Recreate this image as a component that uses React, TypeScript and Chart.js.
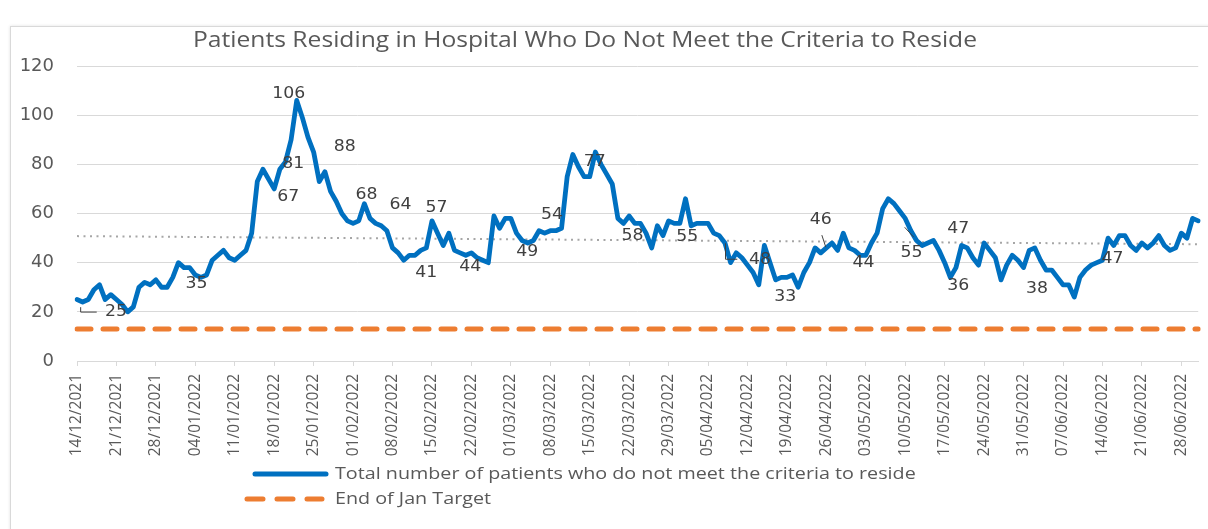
import React, { useEffect, useRef } from 'react';
import { Chart, registerables } from 'chart.js';

Chart.register(...registerables);

// ---------- DATA ----------
const startDate = { year: 2021, month: 12, day: 14 };
const patientCounts: number[] = [
  25, 24, 25, 29, 31, 25, 27, 25, 23, 20,
  22, 30, 32, 31, 33, 30, 30, 34, 40, 38,
  38, 35, 34, 35, 41, 43, 45, 42, 41, 43,
  45, 52, 73, 78, 74, 70, 78, 81, 90, 106,
  99, 91, 85, 73, 77, 69, 65, 60, 57, 56,
  57, 64, 58, 56, 55, 53, 46, 44, 41, 43,
  43, 45, 46, 57, 52, 47, 52, 45, 44, 43,
  44, 42, 41, 40, 59, 54, 58, 58, 52, 49,
  48, 49, 53, 52, 53, 53, 54, 75, 84, 79,
  75, 75, 85, 80, 76, 72, 58, 56, 59, 56,
  56, 52, 46, 55, 51, 57, 56, 56, 66, 55,
  56, 56, 56, 52, 51, 48, 40, 44, 42, 39,
  36, 31, 47, 40, 33, 34, 34, 35, 30, 36,
  40, 46, 44, 46, 48, 45, 52, 46, 45, 43,
  43, 48, 52, 62, 66, 64, 61, 58, 53, 49,
  47, 48, 49, 45, 40, 34, 38, 47, 46, 42,
  39, 48, 45, 42, 33, 39, 43, 41, 38, 45,
  46, 41, 37, 37, 34, 31, 31, 26, 34, 37,
  39, 40, 41, 50, 47, 51, 51, 47, 45, 48,
  46, 48, 51, 47, 45, 46, 52, 50, 58, 57,
];
const targetValue = 13;
const trendStartValue = 50.8;
const trendEndValue = 47.5;
const yTickValues = [0, 20, 40, 60, 80, 100, 120];
const labelEveryDays = 7;

const seriesNames = [
  'Total number of patients who do not meet the criteria to reside',
  'End of Jan Target',
];
const chartTitle = 'Patients Residing in Hospital Who Do Not Meet the Criteria to Reside';

// Data labels placed in data coordinates (day index, value)
const labelDays = [6.9, 21.2, 37.6, 38.4, 37.5, 47.5, 51.4, 57.4, 63.8, 62.0, 69.8, 79.9, 84.3, 91.9, 98.6, 108.3, 121.2, 125.7, 132.0, 139.6, 148.1, 156.4, 156.4, 170.4, 183.8];
const labelValues = [19.9, 31.3, 108.8, 80.4, 66.6, 87.3, 67.4, 63.4, 62.5, 35.7, 38.2, 44.3, 59.3, 81.0, 50.8, 50.4, 41.0, 26.0, 57.3, 39.8, 43.9, 53.6, 30.5, 29.2, 41.4];
const labelTexts = ['25', '35', '106', '81', '67', '88', '68', '64', '57', '41', '44', '49', '54', '77', '58', '55', '48', '33', '46', '44', '55', '47', '36', '38', '47'];

// Leader lines (day index, value) polylines
const leaderLines: [number, number][][] = [
  [[0.65, 21.9], [0.65, 19.9], [3.5, 19.9]],
  [[115.1, 47.9], [115.1, 41.4], [117.2, 41.4]],
  [[132.2, 51.2], [132.9, 46.3]],
  [[146.9, 54.4], [148.5, 50.4]],
];

// ---------- HELPERS ----------
const pad2 = (n: number) => (n < 10 ? '0' + n : String(n));
const dateLabels: string[] = patientCounts.map((_, i) => {
  const d = new Date(startDate.year, startDate.month - 1, startDate.day + i);
  return `${pad2(d.getDate())}/${pad2(d.getMonth() + 1)}/${d.getFullYear()}`;
});

const BLUE = '#0070C0';
const ORANGE = '#ED7D31';
const GREY_TREND = '#A6A6A6';
const TEXT = '#595959';
const LABEL_TEXT = '#404040';
const GRID = '#D9D9D9';

function stretchedText(ctx: CanvasRenderingContext2D, text: string, x: number, y: number, stretch: number) {
  ctx.save();
  ctx.translate(x, y);
  ctx.scale(stretch, 1);
  ctx.fillText(text, 0, 0);
  ctx.restore();
}

const overlayPlugin = {
  id: 'overlay',
  afterDatasetsDraw(chart: any) {
    const { ctx, scales } = chart;
    const xs = scales.x;
    const ys = scales.y;
    ctx.save();
    // leader lines
    ctx.strokeStyle = LABEL_TEXT;
    ctx.lineWidth = 1;
    leaderLines.forEach((pts) => {
      ctx.beginPath();
      pts.forEach(([d, v], i) => {
        const px = xs.getPixelForValue(d);
        const py = ys.getPixelForValue(v);
        if (i === 0) ctx.moveTo(px, py);
        else ctx.lineTo(px, py);
      });
      ctx.stroke();
    });
    // data labels
    ctx.fillStyle = LABEL_TEXT;
    ctx.font = '16px "DejaVu Sans", sans-serif';
    ctx.textAlign = 'center';
    ctx.textBaseline = 'middle';
    labelTexts.forEach((t, i) => {
      stretchedText(ctx, t, xs.getPixelForValue(labelDays[i]), ys.getPixelForValue(labelValues[i]), 1.08);
    });
    ctx.restore();
  },
  afterDraw(chart: any) {
    const { ctx } = chart;
    ctx.save();
    // title
    ctx.fillStyle = TEXT;
    ctx.font = '22px "Open Sans", sans-serif';
    ctx.textAlign = 'center';
    ctx.textBaseline = 'middle';
    stretchedText(ctx, chartTitle, 585, 41, 1.12);
    // legend
    const ds = chart.data.datasets;
    ctx.lineCap = 'round';
    ctx.strokeStyle = ds[0].borderColor;
    ctx.lineWidth = 5;
    ctx.setLineDash([]);
    ctx.beginPath();
    ctx.moveTo(255, 474);
    ctx.lineTo(326, 474);
    ctx.stroke();
    ctx.strokeStyle = ds[1].borderColor;
    ctx.setLineDash([16, 14]);
    ctx.beginPath();
    ctx.moveTo(247, 499);
    ctx.lineTo(322, 499);
    ctx.stroke();
    ctx.setLineDash([]);
    ctx.fillStyle = TEXT;
    ctx.font = '17px "Open Sans", sans-serif';
    ctx.textAlign = 'left';
    stretchedText(ctx, seriesNames[0], 335, 474, 1.16);
    stretchedText(ctx, seriesNames[1], 335, 499, 1.16);
    ctx.restore();
  },
};

export default function App() {
  const canvasRef = useRef<HTMLCanvasElement | null>(null);

  useEffect(() => {
    if (!canvasRef.current) return;
    const trendData: (number | null)[] = patientCounts.map(() => null);
    trendData[0] = trendStartValue;
    trendData[trendData.length - 1] = trendEndValue;

    const chart = new Chart(canvasRef.current, {
      type: 'line',
      data: {
        labels: dateLabels,
        datasets: [
          {
            label: seriesNames[0],
            data: patientCounts,
            borderColor: BLUE,
            backgroundColor: BLUE,
            borderWidth: 4.8,
            pointRadius: 0,
            tension: 0,
            borderJoinStyle: 'round',
            borderCapStyle: 'round',
          },
          {
            label: seriesNames[1],
            data: patientCounts.map(() => targetValue),
            borderColor: ORANGE,
            backgroundColor: ORANGE,
            borderWidth: 5,
            borderDash: [14, 12],
            borderCapStyle: 'round',
            pointRadius: 0,
          },
          {
            label: 'Trend',
            data: trendData,
            borderColor: GREY_TREND,
            borderWidth: 2,
            borderDash: [2, 4.5],
            pointRadius: 0,
            spanGaps: true,
          },
        ],
      },
      options: {
        responsive: false,
        animation: false,
        events: [],
        layout: { padding: { top: 66, right: 5, left: 0, bottom: 0 } },
        plugins: {
          legend: { display: false },
          title: { display: false },
          tooltip: { enabled: false },
        },
        scales: {
          x: {
            type: 'category',
            offset: false,
            grid: {
              display: true,
              drawOnChartArea: false,
              drawTicks: true,
              tickLength: 5,
              color: GRID,
            },
            border: { display: true, color: GRID, width: 1 },
            ticks: {
              autoSkip: false,
              minRotation: 90,
              maxRotation: 90,
              padding: 8,
              color: TEXT,
              font: { family: '"Open Sans", sans-serif', size: 15.5 },
            },
            afterBuildTicks: (scale: any) => {
              scale.ticks = scale.ticks.filter((t: any) => t.value % labelEveryDays === 0);
            },
            afterFit: (scale: any) => {
              scale.height = 168;
            },
          },
          y: {
            min: yTickValues[0],
            max: yTickValues[yTickValues.length - 1],
            afterBuildTicks: (scale: any) => {
              scale.ticks = yTickValues.map((v) => ({ value: v }));
            },
            grid: { color: GRID, drawTicks: false, lineWidth: 1 },
            border: { display: false },
            ticks: {
              padding: 23,
              color: TEXT,
              font: { family: '"DejaVu Sans", sans-serif', size: 18 },
            },
            afterFit: (scale: any) => {
              scale.width = 77;
            },
          },
        },
      },
      plugins: [overlayPlugin],
    });
    return () => chart.destroy();
  }, []);

  return (
    <div style={{ position: 'fixed', left: 0, top: 0, width: 1208, height: 529, background: '#fff', overflow: 'hidden' }}>
      <div
        style={{
          position: 'absolute',
          left: 10,
          top: 26,
          width: 1220,
          height: 540,
          border: '1px solid #D9D9D9',
          boxShadow: '0 0 3px rgba(0,0,0,0.12)',
        }}
      />
      <canvas ref={canvasRef} width={1208} height={529} style={{ position: 'absolute', left: 0, top: 0 }} />
    </div>
  );
}
